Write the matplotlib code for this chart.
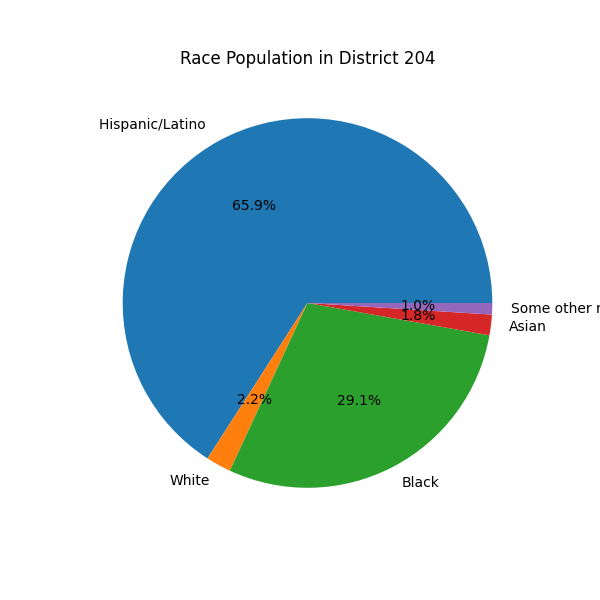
import matplotlib
matplotlib.use('Agg')
import matplotlib.pyplot as plt

labels = ['Hispanic/Latino ', 'White', 'Black', 'Asian', 'Some other race']
values = [65.9, 2.2, 29.1, 1.8, 1.0]

fig, ax = plt.subplots(figsize=(6, 6), dpi=100)
ax.pie(values, labels=labels, autopct='%1.1f%%')
ax.set_title('Race Population in District 204')
plt.savefig('out.png')
